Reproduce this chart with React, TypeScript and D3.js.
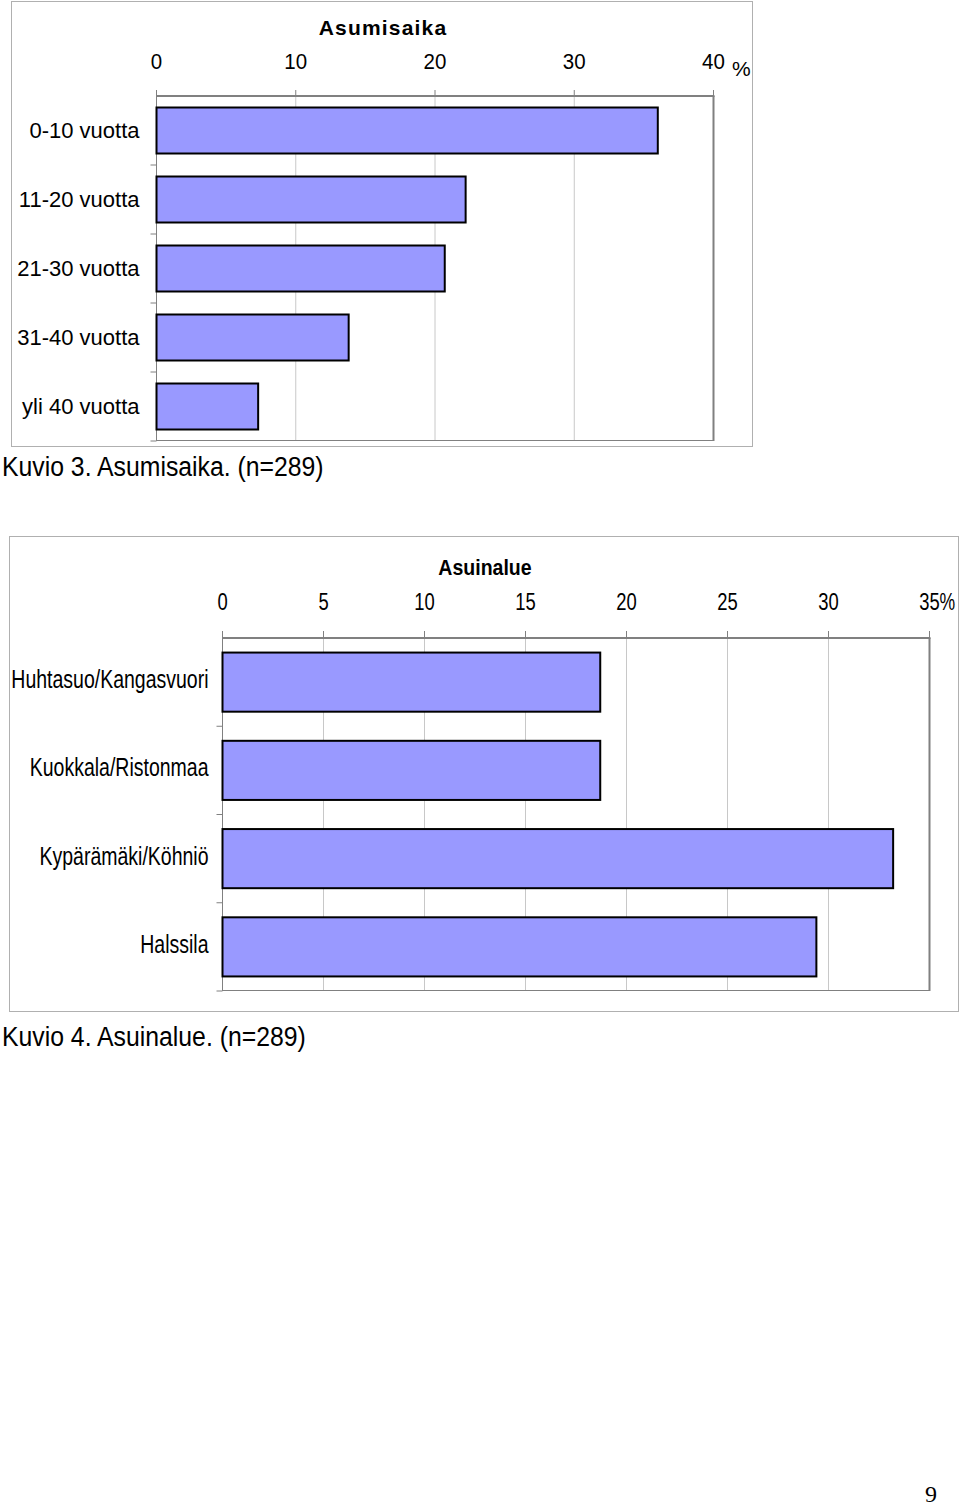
import React from 'react';
import * as d3 from 'd3';

const asumisaikaCategories = ['0-10 vuotta', '11-20 vuotta', '21-30 vuotta', '31-40 vuotta', 'yli 40 vuotta'];
const asumisaikaValues = [36.0, 22.2, 20.7, 13.8, 7.3];
const asumisaikaTicks = [0, 10, 20, 30, 40];

const asuinalueCategories = ['Huhtasuo/Kangasvuori', 'Kuokkala/Ristonmaa', 'Kypärämäki/Köhniö', 'Halssila'];
const asuinalueValues = [18.7, 18.7, 33.2, 29.4];
const asuinalueTicks = [0, 5, 10, 15, 20, 25, 30, 35];

const FONT = 'Liberation Sans, Arial, sans-serif';

type TProps = {
  x: number; y: number; sx?: number; sy?: number; anchor?: string;
  size: number; weight?: string | number; spacing?: number; family?: string; children: React.ReactNode;
};
const T = ({ x, y, sx = 1, sy = 1, anchor = 'start', size, weight = 'normal', spacing = 0, family = FONT, children }: TProps) => (
  <text
    transform={`translate(${x},${y}) scale(${sx},${sy})`}
    textAnchor={anchor}
    fontSize={size}
    fontWeight={weight}
    letterSpacing={spacing}
    fontFamily={family}
    fill="#000"
  >
    {children}
  </text>
);

export default function App() {
  // Chart 1: Asumisaika
  const x1 = d3.scaleLinear().domain([0, 40]).range([156.5, 713.5]);
  const y1 = d3.scaleBand<string>().domain(asumisaikaCategories).range([96, 441]).paddingInner(1 / 3).paddingOuter(1 / 6);
  const step1 = y1.step();

  // Chart 2: Asuinalue
  const x2 = d3.scaleLinear().domain([0, 35]).range([222.5, 929.5]);
  const y2 = d3.scaleBand<string>().domain(asuinalueCategories).range([638, 991]).paddingInner(0.33).paddingOuter(0.165);
  const step2 = y2.step();

  const gridColor = '#c8c8c8';
  const frameColor = '#808080';

  return (
    <svg width={960} height={1507} style={{ position: 'absolute', left: 0, top: 0, background: '#fff' }}>
      <rect x={0} y={0} width={960} height={1507} fill="#fff" />

      {/* ===== Chart 1 ===== */}
      <rect x={11.5} y={1.5} width={741} height={445} fill="#fff" stroke="#b0b0b0" strokeWidth={1} />
      <T x={383} y={35} anchor="middle" size={21} weight="bold" spacing={1.2}>Asumisaika</T>
      {asumisaikaTicks.map((t) => (
        <g key={'t1' + t}>
          <T x={x1(t)} y={69} anchor="middle" size={20.5} sy={1.08}>{String(t)}</T>
          <line x1={x1(t)} x2={x1(t)} y1={90} y2={96} stroke={frameColor} strokeWidth={1} />
          {t > 0 && t < 40 && (
            <line x1={x1(t)} x2={x1(t)} y1={96} y2={441} stroke={gridColor} strokeWidth={1} />
          )}
        </g>
      ))}
      <T x={732} y={76} size={21}>%</T>
      {/* frame */}
      <line x1={x1(0)} x2={x1(40) + 1} y1={96} y2={96} stroke={frameColor} strokeWidth={2} />
      <line x1={x1(40)} x2={x1(40)} y1={96} y2={441} stroke={frameColor} strokeWidth={2} />
      <line x1={x1(0)} x2={x1(40)} y1={440.5} y2={440.5} stroke={frameColor} strokeWidth={1} />
      <line x1={x1(0)} x2={x1(0)} y1={96} y2={441} stroke={frameColor} strokeWidth={1} />
      {asumisaikaCategories.map((c, i) => (
        <line key={'lt1' + i} x1={150.5} x2={x1(0)} y1={(y1(c) as number) - step1 * (1 / 6) + step1} y2={(y1(c) as number) - step1 * (1 / 6) + step1} stroke={frameColor} strokeWidth={1} />
      ))}
      {asumisaikaCategories.map((c, i) => (
        <g key={'b1' + i}>
          <rect x={x1(0)} y={y1(c)} width={x1(asumisaikaValues[i]) - x1(0)} height={y1.bandwidth()} fill="#9999ff" stroke="#000" strokeWidth={2} />
          <T x={139.5} y={(y1(c) as number) + y1.bandwidth() / 2 + 7} anchor="end" size={22}>{c}</T>
        </g>
      ))}
      <T x={2} y={476} size={24.8} sy={1.1}>Kuvio 3. Asumisaika. (n=289)</T>

      {/* ===== Chart 2 ===== */}
      <rect x={9.5} y={536.5} width={949} height={475} fill="#fff" stroke="#b0b0b0" strokeWidth={1} />
      <T x={485} y={575} anchor="middle" size={21} sx={0.93} sy={1.05} weight="bold">Asuinalue</T>
      {asuinalueTicks.map((t) => (
        <g key={'t2' + t}>
          <T x={x2(t)} y={610} anchor="middle" size={23} sx={0.8} sy={1.05}>{String(t)}</T>
          <line x1={x2(t)} x2={x2(t)} y1={631} y2={638} stroke={frameColor} strokeWidth={1} />
          {t > 0 && t < 35 && (
            <line x1={x2(t)} x2={x2(t)} y1={638} y2={991} stroke={gridColor} strokeWidth={1} />
          )}
        </g>
      ))}
      <T x={939.5} y={610} size={22} sx={0.8} sy={1.05}>%</T>
      <line x1={x2(0)} x2={x2(35) + 1} y1={638} y2={638} stroke={frameColor} strokeWidth={2} />
      <line x1={x2(35)} x2={x2(35)} y1={638} y2={991} stroke={frameColor} strokeWidth={2} />
      <line x1={x2(0)} x2={x2(35)} y1={990.5} y2={990.5} stroke={frameColor} strokeWidth={1} />
      <line x1={x2(0)} x2={x2(0)} y1={638} y2={991} stroke={frameColor} strokeWidth={1} />
      {asuinalueCategories.map((c, i) => (
        <line key={'lt2' + i} x1={216.5} x2={x2(0)} y1={(y2(c) as number) - step2 * 0.165 + step2} y2={(y2(c) as number) - step2 * 0.165 + step2} stroke={frameColor} strokeWidth={1} />
      ))}
      {asuinalueCategories.map((c, i) => (
        <g key={'b2' + i}>
          <rect x={x2(0)} y={y2(c)} width={x2(asuinalueValues[i]) - x2(0)} height={y2.bandwidth()} fill="#9999ff" stroke="#000" strokeWidth={2} />
          <T x={208.5} y={(y2(c) as number) + y2.bandwidth() / 2 + 6} anchor="end" size={25} sx={0.78}>{c}</T>
        </g>
      ))}
      <T x={2} y={1046} size={24.8} sy={1.1}>Kuvio 4. Asuinalue. (n=289)</T>

      {/* page number */}
      <T x={931} y={1502} anchor="middle" size={24} family="Liberation Serif, Times New Roman, serif">9</T>
    </svg>
  );
}
